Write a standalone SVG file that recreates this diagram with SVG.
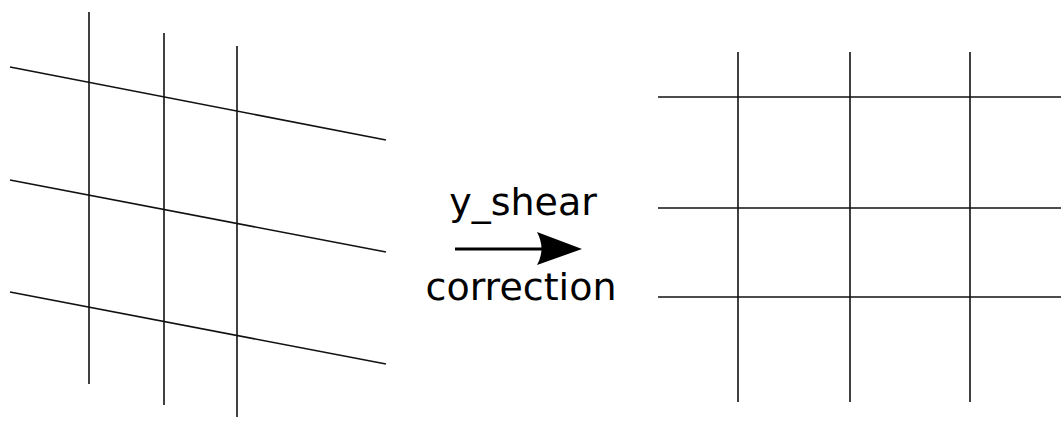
<svg xmlns="http://www.w3.org/2000/svg" width="1061" height="421" viewBox="0 0 1061 421">
<style>
.g line{stroke:#111;stroke-width:1.6;fill:none}
.t{font-family:"DejaVu Sans",sans-serif;font-size:38px;fill:#000;text-anchor:middle}
</style>
<rect width="1061" height="421" fill="#fff"/>
<g id="sheared-grid" class="g">
<line x1="89" y1="12" x2="89" y2="384"/>
<line x1="164" y1="33" x2="164" y2="405"/>
<line x1="237" y1="46" x2="237" y2="417"/>
<line x1="10" y1="67" x2="386" y2="140"/>
<line x1="10" y1="180" x2="386" y2="252"/>
<line x1="10" y1="292" x2="386" y2="364"/>
</g>
<g id="corrected-grid" class="g">
<line x1="738" y1="52" x2="738" y2="402"/>
<line x1="850" y1="52" x2="850" y2="402"/>
<line x1="970" y1="52" x2="970" y2="402"/>
<line x1="658" y1="97" x2="1061" y2="97"/>
<line x1="658" y1="208" x2="1061" y2="208"/>
<line x1="658" y1="297" x2="1061" y2="297"/>
</g>
<g id="connectors">
<line x1="455" y1="249" x2="545" y2="249" stroke="#000" stroke-width="3.2"/>
<path d="M582,249 L537,232 Q546,249 537,265 Z" fill="#000"/>
</g>
<text class="t" x="523" y="215">y_shear</text>
<text class="t" x="521" y="300">correction</text>
</svg>
